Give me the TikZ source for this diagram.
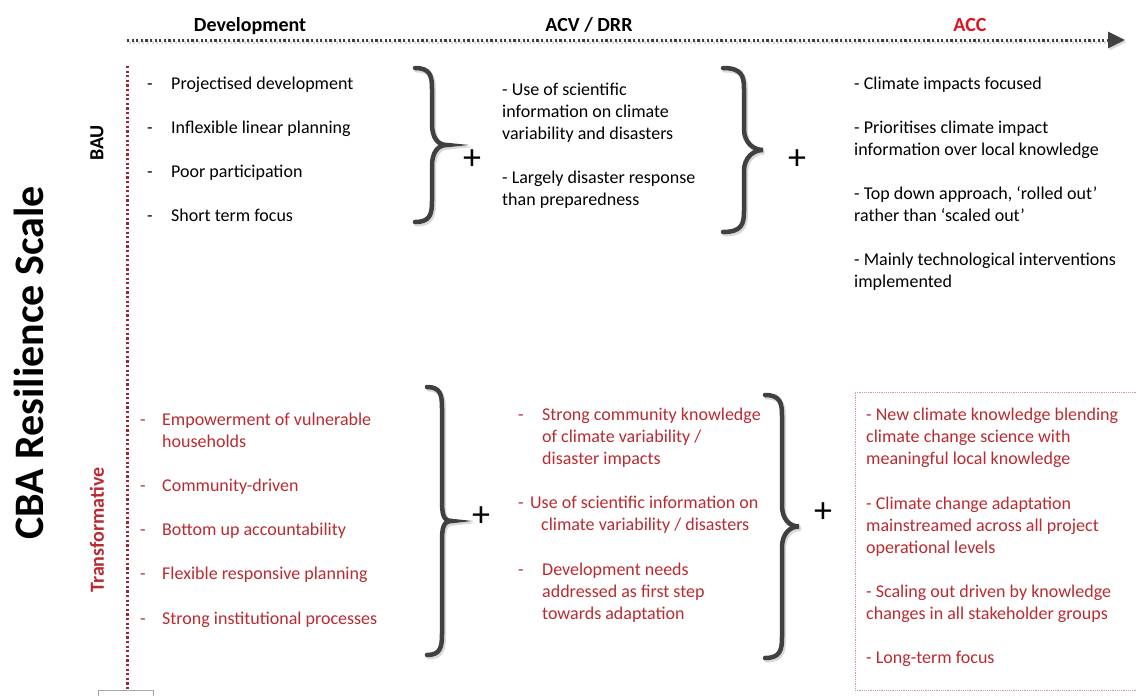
\documentclass[tikz,border=0pt]{standalone}
\usepackage{fontspec}
\setmainfont{Carlito}
\usetikzlibrary{arrows.meta}

\definecolor{txtred}{RGB}{186,42,48}
\definecolor{accred}{RGB}{220,22,32}
\definecolor{axisred}{RGB}{160,36,56}
\definecolor{darkgrey}{RGB}{64,64,64}
\definecolor{boxline}{RGB}{200,155,160}

\newcommand{\bodyfont}{\fontsize{18}{22}\selectfont}
\newcommand{\itm}[1][24pt]{\makebox[#1][l]{-}}
% curly brace: options, x, top y, bottom y, offset of the straight part, offset of the tip
\newcommand{\curlybrace}[6][]{%
    \pgfmathsetmacro\bym{(#3+#4)/2}%
    \draw[#1] (#2,#3) .. controls ({#2+0.9*#5},#3) and ({#2+#5},{#3+8}) .. ({#2+#5},{#3+21})
        -- ({#2+#5},{\bym-21}) .. controls ({#2+#5},{\bym-7}) and ({#2+#6-9},\bym) .. ({#2+#6},\bym)
        .. controls ({#2+#6-9},\bym) and ({#2+#5},{\bym+7}) .. ({#2+#5},{\bym+21})
        -- ({#2+#5},{#4-21}) .. controls ({#2+#5},{#4-8}) and ({#2+0.9*#5},#4) .. (#2,#4);}

\tikzset{
    listtext/.style={anchor=north west, inner sep=0pt, align=left, font=\bodyfont},
    header/.style={anchor=base, inner sep=0pt, font=\fontsize{20}{24}\selectfont\bfseries},
    plus/.style={inner sep=0pt, font=\fontsize{36}{36}\selectfont},
    bigbrace/.style={line width=4.5pt, darkgrey, line cap=round},
    braceshadow/.style={line width=5pt, black!15, line cap=round, shift={(1.5,2)}},
    dotline/.style={line width=3pt, dash pattern=on 2.1pt off 2.5pt}
}

\begin{document}
\begin{tikzpicture}[x=1pt, y=-1pt]
    \useasboundingbox (0, 0) rectangle (1136, 696);

    % scale along the top
    \coordinate (ax-start) at (127, 40);
    \coordinate (ax-end) at (1125, 40);
    \draw[dotline, black!15, -{Triangle[length=17pt, width=16pt]}] ([shift={(1.5,2)}]ax-start) -- ([shift={(1.5,2)}]ax-end);
    \draw[dotline, darkgrey, -{Triangle[length=17pt, width=16pt]}] (ax-start) -- (ax-end);

    \node[header] (h-dev) at (250, 31) {Development};
    \node[header] (h-acv) at (589, 31) {ACV / DRR};
    \node[header, accred] (h-acc) at (970, 31) {ACC};

    % resilience axis
    \coordinate (rs-top) at (127, 66);
    \coordinate (rs-bot) at (127, 689);
    \draw[dotline, axisred] (rs-top) -- (rs-bot);

    \node[rotate=90, inner sep=0pt, font=\fontsize{42}{44}\selectfont\bfseries] (title) at (29, 363) {CBA Resilience Scale};
    \node[rotate=90, inner sep=0pt, font=\fontsize{20}{24}\selectfont\bfseries] (bau) at (97, 143) {BAU};
    \node[rotate=90, inner sep=0pt, font=\fontsize{20}{24}\selectfont\bfseries, txtred] (trans) at (97, 530) {Transformative};

    % BAU row
    \node[listtext] (bau-dev) at (147, 73.6) {\strut\itm Projectised development\\[22pt]
        \itm Inflexible linear planning\\[22pt]
        \itm Poor participation\\[22pt]
        \itm Short term focus};
    \node[listtext] (bau-acv) at (502, 79.6) {\strut- Use of scientific\\information on climate\\variability and disasters\\[22pt]
        - Largely disaster response\\than preparedness};
    \node[listtext] (bau-acc) at (854, 73.6) {\strut- Climate impacts focused\\[22pt]
        - Prioritises climate impact\\information over local knowledge\\[22pt]
        - Top down approach, ‘rolled out’\\rather than ‘scaled out’\\[22pt]
        - Mainly technological interventions\\implemented};

    \curlybrace[braceshadow]{415}{68}{222}{17}{32}
    \curlybrace[bigbrace]{415}{68}{222}{17}{32}
    \node[plus] (p1) at (472, 160) {+};

    \curlybrace[braceshadow]{723}{68}{232}{21}{40}
    \curlybrace[bigbrace]{723}{68}{232}{21}{40}
    \node[plus] (p2) at (797, 160) {+};

    % transformative row
    \node[listtext, txtred] (tr-dev) at (140, 409.6) {\strut\itm[22pt]Empowerment of vulnerable\\\hspace*{22pt}households\\[22pt]
        \itm[22pt]Community-driven\\[22pt]
        \itm[22pt]Bottom up accountability\\[22pt]
        \itm[22pt]Flexible responsive planning\\[23pt]
        \itm[22pt]Strong institutional processes};
    \node[listtext, txtred] (tr-acv) at (518, 404.6) {\strut\itm Strong community knowledge\\\hspace*{24pt}of climate variability /\\\hspace*{24pt}disaster impacts\\[22pt]
        \itm[12pt]Use of scientific information on\\\hspace*{23pt}climate variability / disasters\\[23pt]
        \itm Development needs\\\hspace*{24pt}addressed as first step\\\hspace*{24pt}towards adaptation};

    \draw[boxline, line width=1pt, dash pattern=on 1.2pt off 1pt] (1140, 392) -- (855, 392) -- (855, 690) -- (1140, 690);
    \node[listtext, txtred] (tr-acc) at (866, 404.6) {\strut- New climate knowledge blending\\climate change science with\\meaningful local knowledge\\[23pt]
        - Climate change adaptation\\mainstreamed across all project\\operational levels\\[22pt]
        - Scaling out driven by knowledge\\changes in all stakeholder groups\\[22pt]
        - Long-term focus};

    \curlybrace[braceshadow]{427}{387}{655}{15}{25}
    \curlybrace[bigbrace]{427}{387}{655}{15}{25}
    \node[plus] (p3) at (481, 517) {+};

    \curlybrace[braceshadow]{765}{395}{658}{17}{34}
    \curlybrace[bigbrace]{765}{395}{658}{17}{34}
    \node[plus] (p4) at (823, 513) {+};

    % edge of the next panel
    \draw[black!35, line width=0.8pt] (98, 700) -- (98, 690) -- (153, 690) -- (153, 700);
\end{tikzpicture}
\end{document}
